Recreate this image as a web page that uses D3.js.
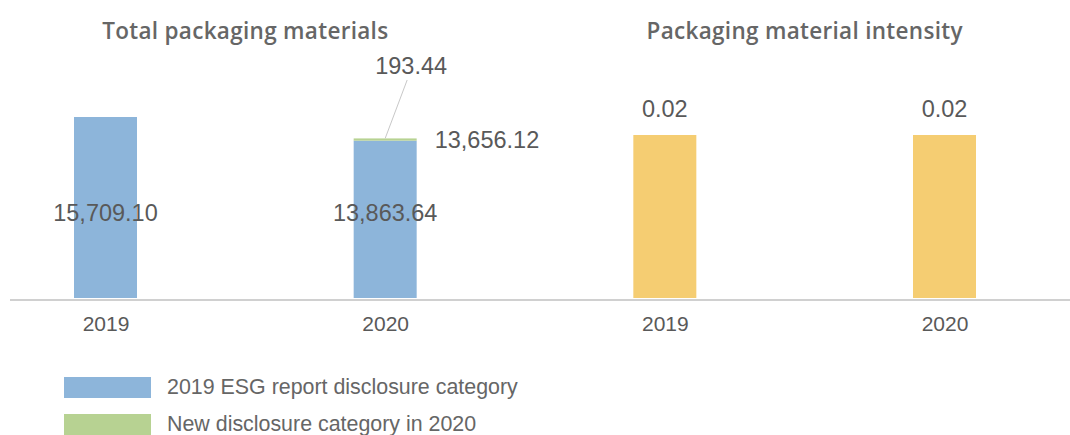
<!DOCTYPE html>
<html>
<head>
<meta charset="utf-8">
<script src="https://cdn.jsdelivr.net/npm/d3@7"></script>
<style>
  html, body { margin: 0; padding: 0; background: #fff; }
  svg { display: block; font-family: "Liberation Sans", Arial, Helvetica, sans-serif; }
</style>
</head>
<body>
<svg id="chart" width="1070" height="435"></svg>
<script>
// ---- data ----
const categories = ["2019", "2020"];
const panelTitles = ["Total packaging materials", "Packaging material intensity"];
const esgCategoryValues = [15709.10, 13656.12];
const newCategoryValues = [0, 193.44];
const insideLabels = ["15,709.10", "13,863.64"];
const sideLabels = ["", "13,656.12"];
const newCategoryLabels = ["", "193.44"];
const intensityValues = [0.02, 0.02];
const intensityLabels = ["0.02", "0.02"];
const legendLabels = ["2019 ESG report disclosure category", "New disclosure category in 2020"];

// ---- styles ----
const BLUE = "#8DB5DA", GREEN = "#B7D292", YELLOW = "#F5CD72";
const TEXT = "#595959", TITLE = "#666666";

const svg = d3.select("#chart");
const W = 1070, baseY = 298, barW = 63;

const keys = ["t2019", "t2020", "i2019", "i2020"];
const tickText = [...categories, ...categories];
const x = d3.scalePoint().domain(keys).range([105.5, 944.5]);

const yTotal = d3.scaleLinear().domain([0, 18000]).range([baseY, 90.6]);
const yIntensity = d3.scaleLinear().domain([0, 0.022]).range([baseY, 118.7]);

// baseline
svg.append("line")
  .attr("x1", 10).attr("x2", W)
  .attr("y1", 300).attr("y2", 300)
  .attr("stroke", "#d0d0d0").attr("stroke-width", 2);

// titles
const leftCenter = (x("t2019") + x("t2020")) / 2;
const rightCenter = (x("i2019") + x("i2020")) / 2;
svg.selectAll("text.title").data(panelTitles).enter().append("text")
  .attr("class", "title")
  .attr("x", (d, i) => i === 0 ? leftCenter : rightCenter)
  .attr("y", 39)
  .attr("text-anchor", "middle")
  .attr("font-family", "\"Open Sans\", \"Liberation Sans\", sans-serif")
  .attr("font-size", 22.5)
  .attr("font-weight", 600)
  .attr("letter-spacing", 0.3)
  .attr("fill", TITLE)
  .text(d => d);

// left panel stacked bars
const leftKeys = ["t2019", "t2020"];
const stackData = categories.map((c, i) => ({ key: leftKeys[i], esg: esgCategoryValues[i], add: newCategoryValues[i] }));
const stack = d3.stack().keys(["esg", "add"])(stackData);
const stackColors = [BLUE, GREEN];
stack.forEach((layer, li) => {
  svg.append("g").selectAll("rect").data(layer).enter().append("rect")
    .attr("x", d => x(d.data.key) - barW / 2)
    .attr("width", barW)
    .attr("y", d => yTotal(d[1]))
    .attr("height", d => yTotal(d[0]) - yTotal(d[1]))
    .attr("fill", stackColors[li]);
});

// right panel bars
const rightKeys = ["i2019", "i2020"];
svg.append("g").selectAll("rect").data(intensityValues).enter().append("rect")
  .attr("x", (d, i) => x(rightKeys[i]) - barW / 2)
  .attr("width", barW)
  .attr("y", d => yIntensity(d))
  .attr("height", d => baseY - yIntensity(d))
  .attr("fill", YELLOW);

// value labels
const labelSize = 23.5;
svg.append("g").selectAll("text").data(insideLabels).enter().append("text")
  .attr("x", (d, i) => x(leftKeys[i]))
  .attr("y", baseY - 77)
  .attr("text-anchor", "middle")
  .attr("font-size", labelSize)
  .attr("fill", TEXT)
  .text(d => d);

svg.append("g").selectAll("text").data(sideLabels).enter().append("text")
  .attr("x", (d, i) => x(leftKeys[i]) + barW / 2 + 18)
  .attr("y", (d, i) => yTotal(esgCategoryValues[i]) + 7)
  .attr("font-size", labelSize)
  .attr("fill", TEXT)
  .text(d => d);

newCategoryLabels.forEach((d, i) => {
  if (!d) return;
  const top = yTotal(esgCategoryValues[i] + newCategoryValues[i]);
  const cx = x(leftKeys[i]);
  svg.append("line")
    .attr("x1", cx + 22).attr("y1", 80)
    .attr("x2", cx).attr("y2", top)
    .attr("stroke", "#c8c8c8").attr("stroke-width", 1);
  svg.append("text")
    .attr("x", cx + 26)
    .attr("y", 73.5)
    .attr("text-anchor", "middle")
    .attr("font-size", labelSize)
    .attr("fill", TEXT)
    .text(d);
});

svg.append("g").selectAll("text").data(intensityLabels).enter().append("text")
  .attr("x", (d, i) => x(rightKeys[i]))
  .attr("y", (d, i) => yIntensity(intensityValues[i]) - 18)
  .attr("text-anchor", "middle")
  .attr("font-size", labelSize)
  .attr("fill", TEXT)
  .text(d => d);

// category axis
const axis = svg.append("g")
  .attr("transform", `translate(0,${300})`)
  .call(d3.axisBottom(x).tickSize(0).tickFormat((d, i) => tickText[i]));
axis.select(".domain").remove();
axis.selectAll("text")
  .attr("y", 31).attr("dy", 0)
  .attr("font-size", 21)
  .attr("font-family", "\"Liberation Sans\", Arial, sans-serif")
  .attr("fill", TEXT);

// legend
const legendColors = [BLUE, GREEN];
const lg = svg.append("g").selectAll("g").data(legendLabels).enter().append("g")
  .attr("transform", (d, i) => `translate(64,${377 + i * 37})`);
lg.append("rect").attr("width", 87).attr("height", 21).attr("fill", (d, i) => legendColors[i]);
lg.append("text")
  .attr("x", 103).attr("y", 16.5)
  .attr("font-size", 21.4)
  .attr("fill", TITLE)
  .text(d => d);
</script>
</body>
</html>
